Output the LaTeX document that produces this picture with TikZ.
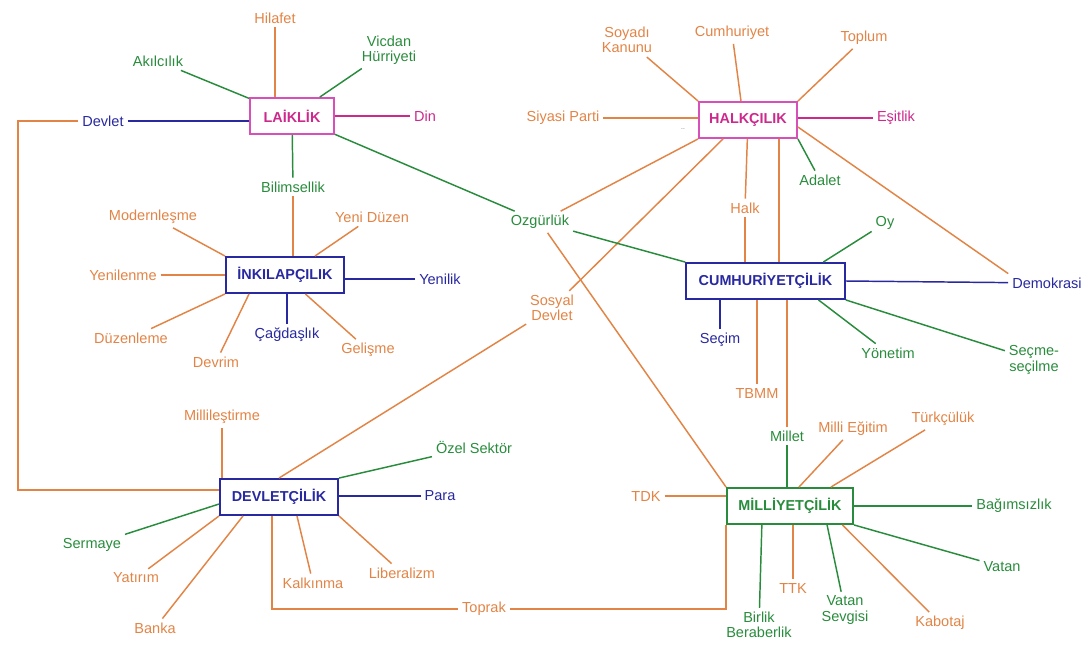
\documentclass[tikz,border=0pt]{standalone}
\usepackage{fontspec}
\setmainfont{Liberation Sans}
\usepackage{tikz}
\usetikzlibrary{calc}

\definecolor{turuncu}{RGB}{226,132,70}
\definecolor{yesil}{RGB}{40,140,60}
\definecolor{mavi}{RGB}{40,40,160}
\definecolor{pembe}{RGB}{205,40,140}
\definecolor{pembeK}{RGB}{215,80,185}

\tikzset{
  kavram/.style={draw, line width=1.4pt, minimum height=27pt, inner sep=2pt,
    font=\fontsize{10.8}{12}\selectfont\bfseries},
  etiket/.style={inner sep=2.5pt, align=center, font=\fontsize{10.9}{11.5}\selectfont}
}

\begin{document}
\begin{tikzpicture}[x=0.75pt,y=-0.75pt,line width=1.1pt]
    \useasboundingbox (0,0) rectangle (1083,650);

    % laiklik
    \node[kavram, draw=pembeK, text=pembe, minimum width=63pt] (laik) at (292,116) {LAİKLİK};
    \node[etiket, turuncu] (hilafet) at (275,18) {Hilafet};
    \node[etiket, yesil] (akil) at (158,61) {Akılcılık};
    \node[etiket, yesil] (vicdan) at (389,50) {Vicdan\\Hürriyeti};
    \node[etiket, pembe] (din) at (425,116) {Din};
    \node[etiket, mavi] (devlet) at (103,121) {Devlet};
    \node[etiket, yesil] (bilim) at (293,187) {Bilimsellik};
    \node[etiket, yesil] (ozgur) at (540,222) {Ozgürlük};

    % inkilapcilik
    \node[kavram, mavi, minimum width=88.5pt] (inkilap) at (285,275) {İNKILAPÇILIK};
    \node[etiket, turuncu] (modern) at (153,217) {Modernleşme};
    \node[etiket, turuncu] (yeniduzen) at (372,217) {Yeni Düzen};
    \node[etiket, turuncu] (yenilenme) at (123,275) {Yenilenme};
    \node[etiket, mavi] (yenilik) at (440,279) {Yenilik};
    \node[etiket, turuncu] (duzenleme) at (131,338) {Düzenleme};
    \node[etiket, turuncu] (devrim) at (216,362) {Devrim};
    \node[etiket, mavi] (cagdas) at (287,335) {Çağdaşlık};
    \node[etiket, turuncu] (gelisme) at (368,350) {Gelişme};

    % halkcilik
    \node[kavram, draw=pembeK, text=pembe, minimum width=73.5pt] (halkci) at (748,120) {HALKÇILIK};
    \node[etiket, turuncu] (soyadi) at (627,40) {Soyadı\\Kanunu};
    \node[etiket, turuncu] (cumhuriyet) at (732,33) {Cumhuriyet};
    \node[etiket, turuncu] (toplum) at (864,38) {Toplum};
    \node[etiket, turuncu] (siyasi) at (563,118) {Siyasi Parti};
    \node[etiket, pembe] (esitlik) at (896,118) {Eşitlik};
    \node[etiket, yesil] (adalet) at (820,180) {Adalet};
    \node[etiket, turuncu] (halk) at (745,208) {Halk};
    \node[inner sep=0pt, font=\tiny, black!60] (nokta) at (683,129) {..};

    % cumhuriyetcilik
    \node[kavram, mavi, minimum width=119pt] (cumhur) at (765.5,281) {CUMHURİYETÇİLİK};
    \node[etiket, yesil] (oy) at (885,223) {Oy};
    \node[etiket, mavi] (demokrasi) at (1047,283) {Demokrasi};
    \node[etiket, mavi] (secim) at (720,340) {Seçim};
    \node[etiket, turuncu] (tbmm) at (757,393) {TBMM};
    \node[etiket, yesil] (yonetim) at (888,353) {Yönetim};
    \node[etiket, yesil] (secme) at (1034,360) {Seçme-\\seçilme};
    \node[etiket, turuncu] (sosyal) at (552,308) {Sosyal\\Devlet};

    % milliyetcilik
    \node[kavram, yesil, minimum width=94.5pt] (milli) at (790,506) {MİLLİYETÇİLİK};
    \node[etiket, yesil] (millet) at (787,436) {Millet};
    \node[etiket, turuncu] (egitim) at (853,429) {Milli Eğitim};
    \node[etiket, turuncu] (turkcu) at (943,419) {Türkçülük};
    \node[etiket, yesil] (bagimsiz) at (1014,506) {Bağımsızlık};
    \node[etiket, yesil] (vatan) at (1002,567) {Vatan};
    \node[etiket, turuncu] (kabotaj) at (940,623) {Kabotaj};
    \node[etiket, yesil] (vatansev) at (845,610) {Vatan\\Sevgisi};
    \node[etiket, turuncu] (ttk) at (793,588) {TTK};
    \node[etiket, yesil] (birlik) at (759,625) {Birlik\\Beraberlik};
    \node[etiket, turuncu] (tdk) at (646,496) {TDK};
    \node[etiket, turuncu] (toprak) at (484,609) {Toprak};

    % devletcilik
    \node[kavram, mavi, minimum width=88.5pt] (devletci) at (279,497) {DEVLETÇİLİK};
    \node[etiket, turuncu] (millilestir) at (222,417) {Millileştirme};
    \node[etiket, yesil] (ozel) at (474,447) {Özel Sektör};
    \node[etiket, mavi] (para) at (440,496) {Para};
    \node[etiket, turuncu] (liberal) at (402,573) {Liberalizm};
    \node[etiket, turuncu] (kalkinma) at (313,583) {Kalkınma};
    \node[etiket, turuncu] (banka) at (155,628) {Banka};
    \node[etiket, turuncu] (yatirim) at (136,578) {Yatırım};
    \node[etiket, yesil] (sermaye) at (92,545) {Sermaye};

    \coordinate (sol) at (18,490);

    % laiklik baglari
    \draw[turuncu] (hilafet) -- (hilafet |- laik.north);
    \draw[yesil] (akil) -- (laik);
    \draw[yesil] (vicdan) -- (laik);
    \draw[pembe] (din) -- (laik);
    \draw[mavi] (devlet) -- (devlet -| laik.west);
    \draw[turuncu] (devlet.west) -| (sol) -- (sol -| devletci.west);
    \draw[yesil] (bilim) -- (laik);
    \draw[yesil] (laik) -- (ozgur);

    % inkilapcilik baglari
    \draw[turuncu] (bilim) -- (bilim |- inkilap.north);
    \draw[turuncu] (modern) -- (inkilap.north west);
    \draw[turuncu] (yeniduzen) -- ($(inkilap.north)!0.5!(inkilap.north east)$);
    \draw[turuncu] (yenilenme) -- (yenilenme -| inkilap.west);
    \draw[mavi] (yenilik) -- (yenilik -| inkilap.east);
    \draw[turuncu] (duzenleme) -- (inkilap.south west);
    \draw[turuncu] (devrim) -- ($(inkilap.south west)!0.2!(inkilap.south east)$);
    \draw[mavi] (cagdas) -- (cagdas |- inkilap.south);
    \draw[turuncu] (gelisme) -- ($(inkilap.south west)!0.67!(inkilap.south east)$);

    % halkcilik baglari
    \draw[turuncu] (soyadi) -- (halkci.north west);
    \draw[turuncu] (cumhuriyet) -- ($(halkci.north west)!0.43!(halkci.north east)$);
    \draw[turuncu] (toplum) -- (halkci.north east);
    \draw[turuncu] (siyasi) -- (siyasi -| halkci.west);
    \draw[pembe] (esitlik) -- (esitlik -| halkci.east);
    \draw[yesil] (adalet) -- (halkci.south east);
    \draw[turuncu] ($(halkci.east)!0.37!(halkci.south east)$) -- (demokrasi.north west);
    \draw[turuncu] (halkci.south west) -- (ozgur);
    \draw[turuncu] ($(halkci.south west)!0.25!(halkci.south east)$) -- (sosyal);
    \draw[turuncu] (sosyal) -- (devletci.north);
    \draw[turuncu] (halkci) -- (halk);
    \draw[turuncu] (halk) -- (halk |- cumhur.north);
    \coordinate (hk) at ($(halkci.south west)!0.81!(halkci.south east)$);
    \draw[turuncu] (hk) -- (hk |- cumhur.north);
    \draw[turuncu] (millet |- cumhur.south) -- (millet);

    % cumhuriyetcilik baglari
    \draw[yesil] (oy) -- ($(cumhur.north west)!0.86!(cumhur.north east)$);
    \draw[mavi] (cumhur.east) -- (demokrasi);
    \draw[yesil] (ozgur) -- (cumhur.north west);
    \draw[turuncu] (ozgur) -- (milli.north west);
    \draw[mavi] (secim) -- (secim |- cumhur.south);
    \draw[turuncu] (tbmm) -- (tbmm |- cumhur.south);
    \draw[yesil] (yonetim) -- ($(cumhur.south west)!0.83!(cumhur.south east)$);
    \draw[yesil] (secme) -- (cumhur.south east);

    % milliyetcilik baglari
    \draw[yesil] (millet) -- (millet |- milli.north);
    \draw[turuncu] (egitim) -- ($(milli.north west)!0.57!(milli.north east)$);
    \draw[turuncu] (turkcu) -- ($(milli.north west)!0.82!(milli.north east)$);
    \draw[yesil] (bagimsiz) -- (bagimsiz -| milli.east);
    \draw[yesil] (vatan) -- (milli.south east);
    \draw[turuncu] (kabotaj) -- ($(milli.south west)!0.91!(milli.south east)$);
    \draw[yesil] (vatansev) -- ($(milli.south west)!0.79!(milli.south east)$);
    \draw[turuncu] (ttk) -- (ttk |- milli.south);
    \draw[yesil] (birlik) -- ($(milli.south west)!0.28!(milli.south east)$);
    \draw[turuncu] (tdk) -- (tdk -| milli.west);
    \draw[turuncu] (milli.south west) |- (toprak);

    % devletcilik baglari
    \draw[turuncu] (toprak) -| ($(devletci.south west)!0.44!(devletci.south east)$);
    \draw[turuncu] (millilestir) -- (millilestir |- devletci.north);
    \draw[yesil] (ozel) -- (devletci.north east);
    \draw[mavi] (para) -- (para -| devletci.east);
    \draw[turuncu] (liberal) -- (devletci.south east);
    \draw[turuncu] (kalkinma) -- ($(devletci.south west)!0.65!(devletci.south east)$);
    \draw[turuncu] (banka) -- ($(devletci.south west)!0.2!(devletci.south east)$);
    \draw[turuncu] (yatirim) -- (devletci.south west);
    \draw[yesil] (sermaye) -- ($(devletci.west)!0.37!(devletci.south west)$);

\end{tikzpicture}
\end{document}
